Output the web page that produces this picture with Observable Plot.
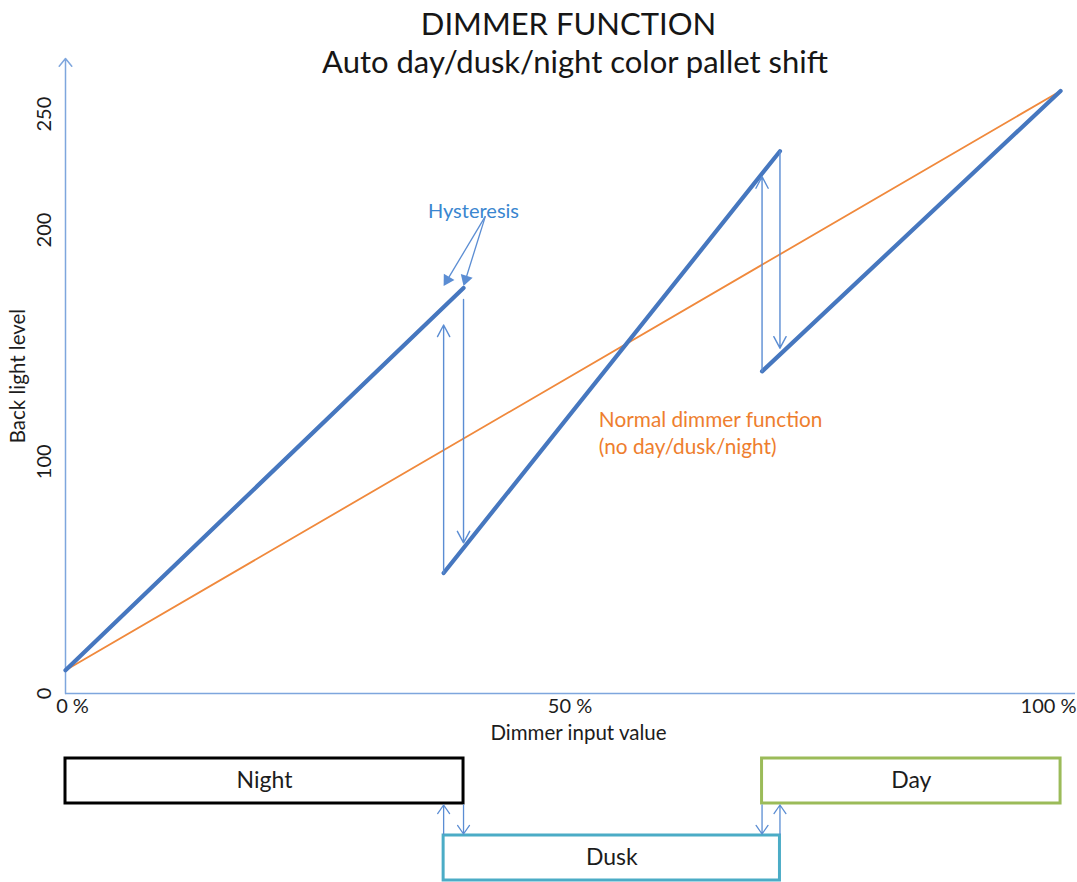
<!DOCTYPE html>
<html>
<head>
<meta charset="utf-8">
<script src="https://cdn.jsdelivr.net/npm/d3@7"></script>
<script src="https://cdn.jsdelivr.net/npm/@observablehq/plot@0.6"></script>
<style>
  html, body { margin: 0; padding: 0; background: #ffffff; }
  #page { position: relative; width: 1077px; height: 882px; overflow: hidden; font-family: Lato, "Open Sans", sans-serif; }
  .head { position: absolute; left: 0; width: 1077px; box-sizing: border-box; text-align: center; color: #161616; font-size: 31px; line-height: 38px; white-space: nowrap; }
  #title { top: 4px; padding-left: 60px; }
  #subtitle { top: 42px; padding-left: 73px; }
  #chart svg, #states svg { display: block; }
</style>
</head>
<body>
<div id="page">
  <div id="chart"></div>
  <div id="states"></div>
  <div id="title" class="head">DIMMER FUNCTION</div>
  <div id="subtitle" class="head">Auto day/dusk/night color pallet shift</div>
</div>
<script>
// ---------------- data ----------------
const xTickValues = [0, 50, 100];
const xTickLabels = ["0 %", "50 %", "100 %"];
const yTickValues = [0, 100, 200, 250];
const yTickLabels = ["0", "100", "200", "250"];
const xTitle = "Dimmer input value";
const yTitle = "Back light level";

// normal dimmer function (orange)
const normalInput = [0, 100];
const normalLevel = [10, 260];

// day/dusk/night backlight curve (blue), one segment per palette
const segmentName = ["Night", "Dusk", "Day"];
const segmentInput = [[0, 40], [38, 71.8], [70, 100]];
const segmentLevel = [[10, 175], [52, 234], [139, 260]];

// hysteresis jumps between palettes
const jumpInput = [38, 40, 70, 71.8];
const jumpFromLevel = [52, 170, 139, 234];
const jumpToLevel = [159, 65, 223, 149];

// palette states (boxes below the chart)
const stateName = ["Night", "Dusk", "Day"];
const stateFrom = [0, 38, 70];
const stateTo = [40, 71.8, 100];
const stateRow = ["Night / Day", "Dusk", "Night / Day"];
const stateColor = ["#000000", "#4BACC6", "#9BBB59"];
const rowOrder = ["Night / Day", "Dusk"];

// palette transitions
const transitionInput = [38, 40, 70, 71.8];
const transitionFrom = ["Dusk", "Night / Day", "Night / Day", "Dusk"];
const transitionTo = ["Night / Day", "Dusk", "Dusk", "Night / Day"];

// annotations (anchored in data space)
const hysteresisLabel = [{text: "Hysteresis", input: 41, level: 205}];
const hysteresisOrigin = {input: 42.2, level: 206};
const hysteresisTips = [{input: 38, level: 175.8}, {input: 40, level: 175.8}];
const normalLabel = [{text: "Normal dimmer function\n(no day/dusk/night)", input: 53.6, level: 113}];

// ---------------- layout & style ----------------
const FONT = "Lato, 'Open Sans', sans-serif";
const W = 1077, H1 = 745, H2 = 137;
const M = {left: 65, right: 2, top: 58, bottom: 52};
const xDomain = [0, 101.5];
const yDomain = [0, 274];
const BLUE = "#4677BF";
const THIN = "#5B8DD3";
const AXIS = "#7EA6DD";
const HYST = "#3A86D0";
const ORANGE = "#F0893C";
const ORANGE_TEXT = "#EE7E2E";
const INK = "#1c1c1c";

// ---------------- derived tables ----------------
const normalData = normalInput.map((x, i) => ({input: x, level: normalLevel[i]}));
const curveData = segmentName.flatMap((name, i) =>
  segmentInput[i].map((x, j) => ({segment: name, input: x, level: segmentLevel[i][j]})));
const jumps = jumpInput.map((x, i) => ({input: x, from: jumpFromLevel[i], to: jumpToLevel[i]}));
const xTicks = xTickValues.map((v, i) => ({value: v, label: xTickLabels[i]}));
const yTicks = yTickValues.map((v, i) => ({value: v, label: yTickLabels[i]}));
const stateData = stateName.map((n, i) => ({name: n, from: stateFrom[i], to: stateTo[i], row: stateRow[i], color: stateColor[i]}));
const transitions = transitionInput.map((x, i) => ({input: x, from: transitionFrom[i], to: transitionTo[i]}));

// filled arrow heads for the "Hysteresis" pointers
const xs = d3.scaleLinear(xDomain, [M.left, W - M.right]);
const ys = d3.scaleLinear(yDomain, [H1 - M.bottom, M.top]);
const headR = 4.6;
const headTip = 2 * Math.sqrt((Math.PI * headR * headR) / (3 * Math.sqrt(3)));
const pointers = hysteresisTips.map(t => {
  const x0 = xs(hysteresisOrigin.input), y0 = ys(hysteresisOrigin.level);
  const x1 = xs(t.input), y1 = ys(t.level);
  const len = Math.hypot(x1 - x0, y1 - y0);
  const ux = (x1 - x0) / len, uy = (y1 - y0) / len;
  return {
    x0: hysteresisOrigin.input, y0: hysteresisOrigin.level,
    input: xs.invert(x1 - ux * headTip), level: ys.invert(y1 - uy * headTip),
    angle: Math.atan2(ux, -uy) * 180 / Math.PI
  };
});

// ---------------- main chart ----------------
const chart = Plot.plot({
  width: W, height: H1,
  marginLeft: M.left, marginRight: M.right, marginTop: M.top, marginBottom: M.bottom,
  x: {domain: xDomain, axis: null},
  y: {domain: yDomain, axis: null},
  style: {fontFamily: FONT, background: "transparent", overflow: "visible"},
  marks: [
    Plot.ruleY([0], {stroke: AXIS, strokeWidth: 1.6}),
    Plot.arrow([yDomain], {x1: () => 0, x2: () => 0, y1: d => d[0], y2: d => d[1],
      stroke: AXIS, strokeWidth: 1.5, headLength: 10, headAngle: 78}),
    Plot.line(normalData, {x: "input", y: "level", stroke: ORANGE, strokeWidth: 1.8}),
    Plot.line(curveData, {x: "input", y: "level", z: "segment", stroke: BLUE, strokeWidth: 4.2, strokeLinecap: "round"}),
    Plot.arrow(jumps, {x1: "input", x2: "input", y1: "from", y2: "to",
      stroke: THIN, strokeWidth: 1.4, headLength: 14, headAngle: 56}),
    // x tick labels
    Plot.text(xTicks.slice(0, -1), {x: "value", text: "label", frameAnchor: "bottom", dy: 19, dx: 7,
      fontSize: 20, fill: INK}),
    Plot.text(xTicks.slice(-1), {x: "value", text: "label", frameAnchor: "bottom", dy: 19, dx: 16,
      textAnchor: "end", fontSize: 20, fill: INK}),
    // y tick labels
    Plot.text(yTicks, {y: "value", text: "label", frameAnchor: "left", dx: -21, rotate: -90,
      textAnchor: "middle", lineAnchor: "middle", fontSize: 20, fill: INK}),
    // axis titles
    Plot.text([yTitle], {text: d => d, frameAnchor: "left", dx: -47, rotate: -90,
      textAnchor: "middle", lineAnchor: "middle", fontSize: 20.5, fill: INK}),
    Plot.text([xTitle], {text: d => d, frameAnchor: "bottom", dy: 46, dx: 8, fontSize: 20.5, fill: INK}),
    // annotations
    Plot.text(hysteresisLabel, {x: "input", y: "level", text: "text", lineAnchor: "bottom", fontSize: 20, fill: HYST}),
    Plot.link(pointers, {x1: "x0", y1: "y0", x2: "input", y2: "level", stroke: THIN, strokeWidth: 1.3}),
    Plot.dot(pointers, {x: "input", y: "level", symbol: "triangle", r: headR, fill: THIN, stroke: null, rotate: "angle"}),
    Plot.text(normalLabel, {x: "input", y: "level", text: "text", textAnchor: "start", lineAnchor: "middle",
      lineHeight: 1.3, fontSize: 20.8, fill: ORANGE_TEXT})
  ]
});
document.getElementById("chart").appendChild(chart);

// ---------------- palette state boxes ----------------
const states = Plot.plot({
  width: W, height: H2,
  marginLeft: M.left, marginRight: M.right, marginTop: 13, marginBottom: 2,
  x: {domain: xDomain, axis: null},
  y: {domain: rowOrder, axis: null, paddingInner: 0.416, paddingOuter: 0},
  color: {type: "identity"},
  style: {fontFamily: FONT, background: "transparent", overflow: "visible"},
  marks: [
    Plot.barX(stateData, {x1: "from", x2: "to", y: "row", fill: "#ffffff", stroke: "color", strokeWidth: 3, inset: 0}),
    Plot.text(stateData, {x: d => (d.from + d.to) / 2, y: "row", text: "name", fontSize: 23, fill: INK}),
    Plot.arrow(transitions, {x1: "input", x2: "input", y1: "from", y2: "to", stroke: THIN, strokeWidth: 1.3,
      headLength: 12, headAngle: 70, inset: 24})
  ]
});
document.getElementById("states").appendChild(states);
</script>
</body>
</html>
